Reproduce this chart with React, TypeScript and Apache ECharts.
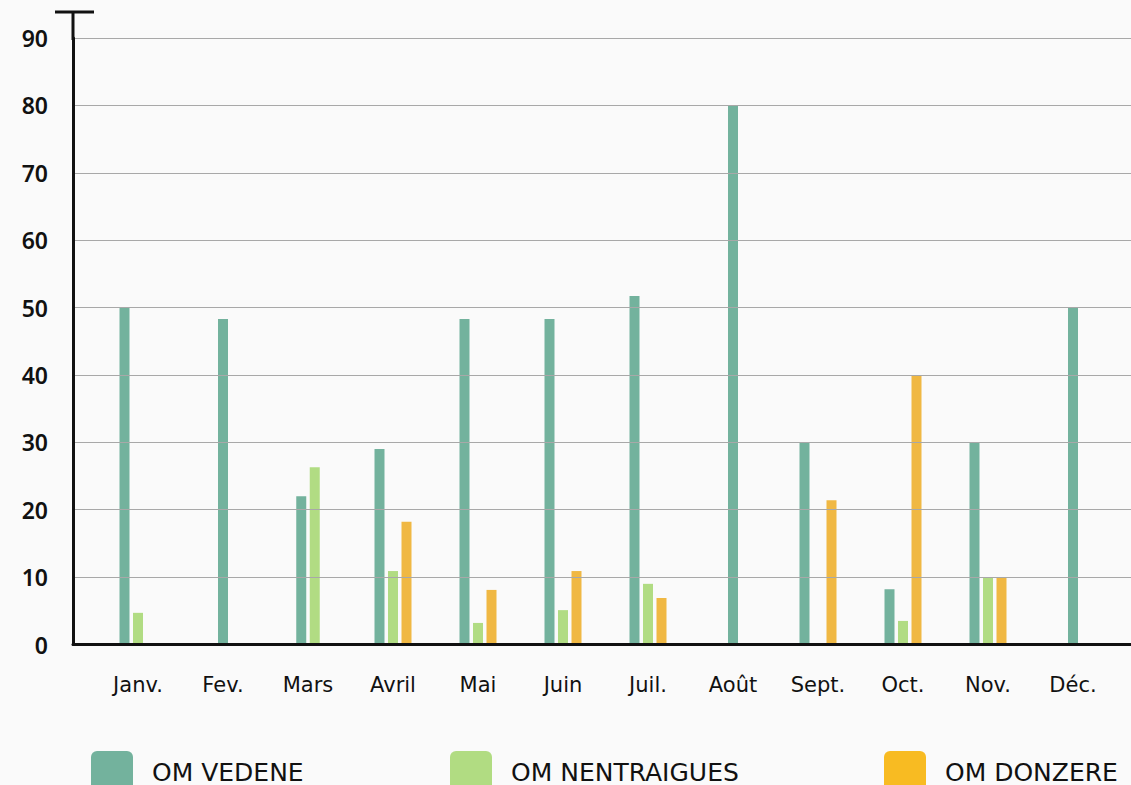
import React, { useEffect, useRef } from "react";
import * as echarts from "echarts";

const months = ["Janv.", "Fev.", "Mars", "Avril", "Mai", "Juin", "Juil.", "Août", "Sept.", "Oct.", "Nov.", "Déc."];
const seriesNames = ["OM VEDENE", "OM NENTRAIGUES", "OM DONZERE"];
const vedene: (number | null)[] = [50, 48.3, 22, 29, 48.3, 48.3, 51.7, 80, 30, 8.2, 30, 50];
const nentraigues: (number | null)[] = [4.7, null, 26.3, 10.9, 3.2, 5.1, 9, null, 0, 3.5, 10, null];
const donzere: (number | null)[] = [0, null, null, 18.2, 8.1, 10.9, 6.9, null, 21.4, 40, 10, null];
const yTicks = [0, 10, 20, 30, 40, 50, 60, 70, 80, 90];

const allSeries = [vedene, nentraigues, donzere];
const barColors = ["#73b29d", "#b1dc83", "#f0b843"];
const legendColors = ["#73b29d", "#b1dc82", "#f8bb22"];
const legendLeft = [91, 450, 884];

const BAR_W = 10;
const STEP = 13.5;

function slotOffset(sIdx: number, cat: number): number {
  const present = allSeries.map((a) => a[cat] != null);
  const count = present.filter(Boolean).length;
  let pos = 0;
  for (let k = 0; k < sIdx; k++) if (present[k]) pos++;
  return (pos - (count - 1) / 2) * STEP;
}

const roundSq =
  "path://M6,0 H36 A6,6 0 0 1 42,6 V36 A6,6 0 0 1 36,42 H6 A6,6 0 0 1 0,36 V6 A6,6 0 0 1 6,0 Z";

export default function App() {
  const ref = useRef<HTMLDivElement>(null);
  useEffect(() => {
    if (!ref.current) return;
    const chart = echarts.init(ref.current, null, { renderer: "svg" });
    const top = 38;
    const bottom = 785 - 644.5;
    chart.setOption({
      animation: false,
      backgroundColor: "#fafafa",
      grid: [
        { left: 73, right: 0, top, bottom },
        { left: 95.5, width: 1020, top, bottom },
      ],
      xAxis: [
        {
          gridIndex: 0,
          type: "value",
          min: 0,
          max: 1,
          z: 10,
          axisLine: { show: true, lineStyle: { color: "#111", width: 3 } },
          axisTick: { show: false },
          axisLabel: { show: false },
          splitLine: { show: false },
        },
        {
          gridIndex: 1,
          type: "category",
          data: months,
          axisLine: { show: false },
          axisTick: { show: false },
          axisLabel: {
            color: "#111",
            fontSize: 21,
            fontFamily: "DejaVu Sans",
            margin: 30,
            interval: 0,
          },
          splitLine: { show: false },
        },
      ],
      yAxis: [
        {
          gridIndex: 0,
          type: "value",
          min: yTicks[0],
          max: yTicks[yTicks.length - 1],
          interval: 10,
          z: 10,
          axisLine: { show: true, lineStyle: { color: "#111", width: 3 } },
          axisTick: { show: false },
          axisLabel: {
            color: "#111",
            fontSize: 23,
            fontWeight: 600,
            fontFamily: "Noto Sans",
            margin: 25,
          },
          splitLine: { show: true, lineStyle: { color: "#a8a8a8", width: 1 } },
        },
        {
          gridIndex: 1,
          type: "value",
          min: yTicks[0],
          max: yTicks[yTicks.length - 1],
          interval: 10,
          show: false,
          splitLine: { show: false },
        },
      ],
      legend: seriesNames.map((name, i) => ({
        data: [{ name, itemStyle: { color: legendColors[i] } }],
        left: legendLeft[i],
        top: 751,
        padding: 0,
        itemWidth: 42,
        itemHeight: 42,
        itemGap: 0,
        icon: roundSq,
        textStyle: {
          color: "#111",
          fontSize: 25,
          lineHeight: 22,
          fontFamily: "DejaVu Sans",
          padding: [0, 0, 0, 14],
        },
        selectedMode: false,
      })),
      graphic: [
        { type: "line", shape: { x1: 55, y1: 12, x2: 94, y2: 12 }, style: { stroke: "#111", lineWidth: 3 }, z: 20 },
        { type: "line", shape: { x1: 73, y1: 12, x2: 73, y2: 40 }, style: { stroke: "#111", lineWidth: 3 }, z: 20 },
      ],
      series: allSeries.map((arr, sIdx) => ({
        type: "custom",
        name: seriesNames[sIdx],
        xAxisIndex: 1,
        yAxisIndex: 1,
        itemStyle: { color: barColors[sIdx] },
        data: arr.map((v, i) => [i, v]).filter((d) => d[1] != null),
        renderItem: (params: any, api: any) => {
          const cat = api.value(0);
          const val = api.value(1);
          const base = api.coord([cat, 0]);
          const tp = api.coord([cat, val]);
          const x = base[0] + slotOffset(params.seriesIndex, cat) - BAR_W / 2;
          return {
            type: "rect",
            shape: { x, y: tp[1], width: BAR_W, height: base[1] - tp[1] },
            style: { fill: barColors[params.seriesIndex] },
          };
        },
      })),
    });
    return () => chart.dispose();
  }, []);
  return (
    <div
      ref={ref}
      style={{ position: "fixed", left: 0, top: 0, width: 1131, height: 785, background: "#fafafa" }}
    />
  );
}
